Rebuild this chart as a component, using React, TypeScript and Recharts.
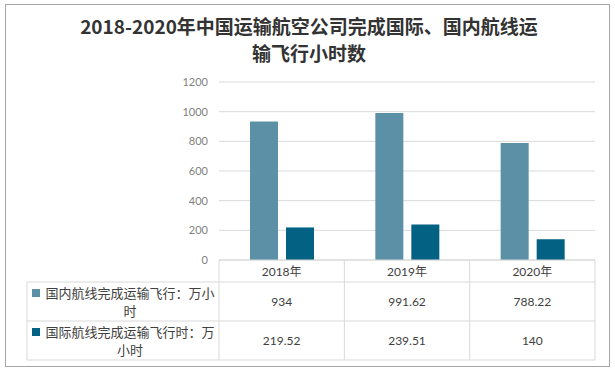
import React from 'react';
import { BarChart, Bar, XAxis, YAxis, CartesianGrid } from 'recharts';

const years = ['2018年', '2019年', '2020年'];
const domestic = [934, 991.62, 788.22];
const international = [219.52, 239.51, 140];
const seriesNames = ['国内航线完成运输飞行：万小时', '国际航线完成运输飞行时：万小时'];
const yTicks = [0, 200, 400, 600, 800, 1000, 1200];
const titleLines = ['2018-2020年中国运输航空公司完成国际、国内航线运', '输飞行小时数'];

const colors = ['#5b90a7', '#036184'];
const seriesValues = [domestic, international];

const data = years.map((y, i) => ({ year: y, domestic: domestic[i], international: international[i] }));

const LINE = '#d9d9d9';
const TEXT = '#404040';
const FONT = "Lato, 'Noto Sans CJK SC', sans-serif";
const CJK = "'Noto Sans CJK SC', sans-serif";

const wrap = (s: string, n: number) => {
  const out: string[] = [];
  const chars = Array.from(s);
  for (let i = 0; i < chars.length; i += n) out.push(chars.slice(i, i + n).join(''));
  return out;
};

const TableTick = (props: any) => {
  const { x, y, payload, index, visibleTicksCount, width } = props;
  const count = visibleTicksCount || years.length;
  const band = width ? width / count : 125.33;
  const x0 = x - band / 2;
  const x1 = x + band / 2;
  const rowTops = [y + 22, y + 61];
  const bottom = y + 100;
  const legendLeft = x0 - 192;
  const textCenter = (legendLeft + 14 + x0) / 2;
  return (
    <g>
      <line x1={x0} y1={y} x2={x0} y2={bottom} stroke={LINE} />
      {index === count - 1 && <line x1={x1} y1={y} x2={x1} y2={bottom} stroke={LINE} />}
      {[...rowTops, bottom].map((ry, k) => (
        <line key={k} x1={x0} y1={ry} x2={x1} y2={ry} stroke={LINE} />
      ))}
      <text x={x} y={y + 11} textAnchor="middle" dominantBaseline="central" fontSize={12} fill={TEXT} fontFamily={FONT}>
        {payload.value}
      </text>
      {seriesValues.map((vals, k) => (
        <text key={k} x={x} y={rowTops[k] + 19.5} textAnchor="middle" dominantBaseline="central" fontSize={12} fill={TEXT} fontFamily={FONT}>
          {String(vals[index])}
        </text>
      ))}
      {index === 0 && (
        <g>
          <line x1={legendLeft} y1={rowTops[0]} x2={legendLeft} y2={bottom} stroke={LINE} />
          {[...rowTops, bottom].map((ry, k) => (
            <line key={k} x1={legendLeft} y1={ry} x2={x0} y2={ry} stroke={LINE} />
          ))}
          {seriesNames.map((name, k) => (
            <g key={k}>
              <rect x={legendLeft + 5} y={rowTops[k] + 7} width={8} height={8} fill={colors[k]} />
              {wrap(name, 13).map((ln, j) => (
                <text key={j} x={textCenter} y={rowTops[k] + 10 + j * 18} textAnchor="middle" dominantBaseline="central" fontSize={13} fill={TEXT} fontFamily={CJK}>
                  {ln}
                </text>
              ))}
            </g>
          ))}
        </g>
      )}
    </g>
  );
};

export default function App() {
  return (
    <div style={{ position: 'absolute', left: 0, top: 0, width: 615, height: 371, background: '#fff' }}>
      <div style={{ position: 'absolute', left: 5, top: 4, width: 603, height: 361, border: '1px solid #a6a6a6' }} />
      {titleLines.map((t, i) => (
        <div
          key={i}
          style={{
            position: 'absolute',
            left: 0,
            width: 618,
            top: 12 + i * 27,
            height: 27,
            lineHeight: '27px',
            textAlign: 'center',
            fontSize: 19,
            fontWeight: 700,
            color: '#333',
            fontFamily: CJK,
            whiteSpace: 'nowrap',
          }}
        >
          {t}
        </div>
      ))}
      <div style={{ position: 'absolute', left: 0, top: 0 }}>
        <BarChart
          width={615}
          height={371}
          data={data}
          margin={{ top: 82, right: 20, bottom: 11, left: 0 }}
          barSize={28}
          barGap={8}
        >
          <CartesianGrid vertical={false} stroke={LINE} />
          <YAxis
            width={219}
            domain={[0, 1200]}
            ticks={yTicks}
            tickLine={false}
            axisLine={false}
            tickMargin={5}
            tick={{ fontSize: 11, fill: '#7f7f7f', fontFamily: FONT }}
            interval={0}
          />
          <XAxis
            dataKey="year"
            height={100}
            tickLine={false}
            tickSize={0}
            tickMargin={0}
            axisLine={{ stroke: LINE }}
            interval={0}
            tick={(p: any) => <TableTick {...p} />}
          />
          <Bar dataKey="domestic" fill={colors[0]} isAnimationActive={false} />
          <Bar dataKey="international" fill={colors[1]} isAnimationActive={false} />
        </BarChart>
      </div>
    </div>
  );
}
